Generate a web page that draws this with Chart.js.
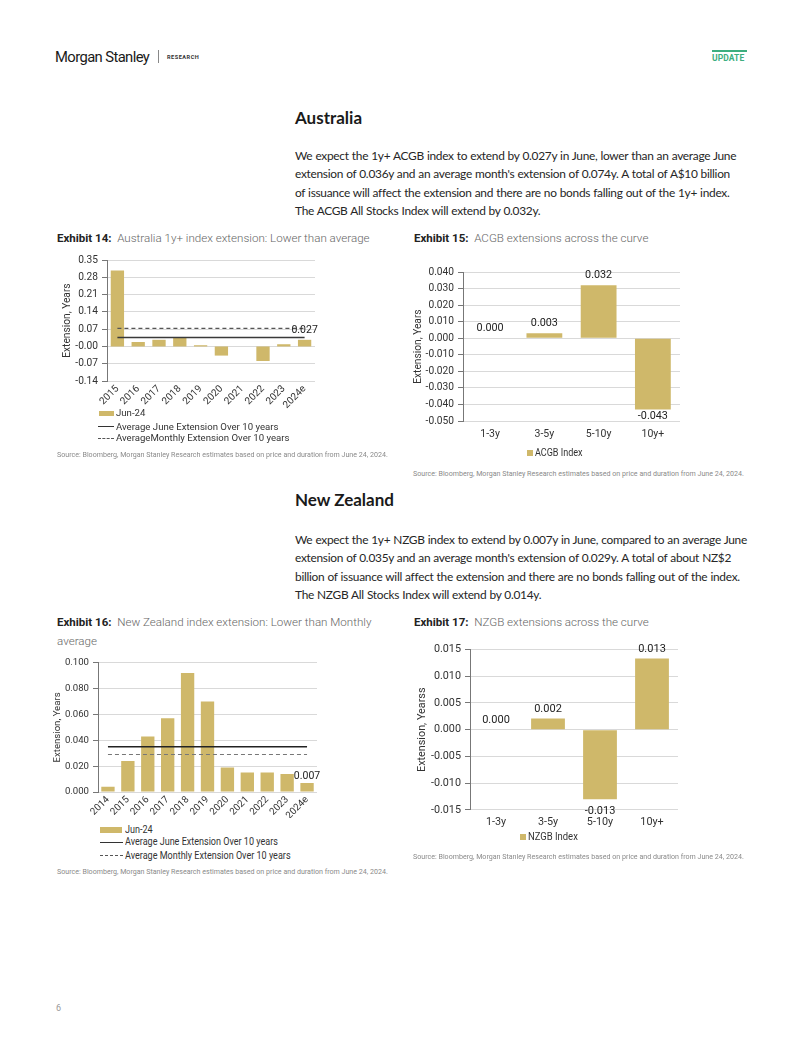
<!DOCTYPE html>
<html><head><meta charset="utf-8">
<script src="https://cdn.jsdelivr.net/npm/chart.js@4.4.1/dist/chart.umd.min.js"></script>
<style>
html,body{margin:0;padding:0;background:#fff;}
body{width:802px;height:1037px;position:relative;overflow:hidden;font-family:Roboto,"Liberation Sans",sans-serif;color:#222;}
.a{position:absolute;white-space:nowrap;}
canvas{position:absolute;}
.h2{font-family:Lato,"Open Sans",sans-serif;font-weight:700;font-size:17px;line-height:20px;color:#1a1a1a;}
.p{font-family:Lato,"Open Sans",sans-serif;font-size:11.9px;letter-spacing:-0.28px;word-spacing:0.3px;line-height:18.3px;color:#262626;}
.ex{font-size:11.6px;line-height:18px;color:#666;font-weight:300;}
.ex b{color:#222;font-weight:700;font-size:11.5px;}
.src{font-size:7.1px;color:#8a8a8a;line-height:10px;}
.lg{font-size:9.6px;color:#333;line-height:12px;}
.cn{font-size:10.5px;transform:scaleX(0.86);transform-origin:0 50%;}
.sw{position:absolute;background:#cfb86a;}
.ln{position:absolute;border-top:1.5px solid #333;height:0;}
.dl{position:absolute;border-top:1.2px dashed #555;height:0;}
</style></head>
<body>
<div class="a" style="left:55px;top:48px;font-size:14.8px;letter-spacing:-0.6px;color:#1a1a1a;">Morgan Stanley</div>
<div class="a" style="left:158px;top:50px;width:1px;height:13px;background:#888;"></div>
<div class="a" style="left:167px;top:54px;font-size:5.6px;font-weight:700;letter-spacing:0.5px;color:#333;">RESEARCH</div>
<div class="a" style="left:712px;top:50px;width:35px;height:2px;background:#3dae7f;"></div>
<div class="a" style="left:712px;top:53px;font-size:8.5px;font-weight:700;color:#3dae7f;letter-spacing:0.1px;">UPDATE</div>

<div class="a h2" style="left:295px;top:108px;">Australia</div>
<div class="a p" style="left:295px;top:147px;">We expect the 1y+ ACGB index to extend by 0.027y in June, lower than an average June<br>extension of 0.036y and an average month's extension of 0.074y. A total of A$10 billion<br>of issuance will affect the extension and there are no bonds falling out of the 1y+ index.<br>The ACGB All Stocks Index will extend by 0.032y.</div>

<div class="a ex" style="left:57px;top:229px;"><b>Exhibit 14:</b>&nbsp; Australia 1y+ index extension: Lower than average</div>
<div class="a ex" style="left:414px;top:229px;"><b>Exhibit 15:</b>&nbsp; ACGB extensions across the curve</div>

<canvas id="c14" width="262" height="160" style="left:57px;top:250px;"></canvas>
<canvas id="c15" width="276" height="183" style="left:408px;top:262px;"></canvas>

<div class="sw" style="left:99px;top:411px;width:15px;height:5px;"></div>
<div class="a lg" style="left:116px;top:407px;">Jun-24</div>
<div class="ln" style="left:98px;top:426px;width:16px;"></div>
<div class="a lg" style="left:116px;top:421px;">Average June Extension Over 10 years</div>
<div class="dl" style="left:98px;top:437.5px;width:16px;"></div>
<div class="a lg" style="left:116px;top:432px;">AverageMonthly Extension Over 10 years</div>
<div class="a src" style="left:57px;top:450px;">Source: Bloomberg, Morgan Stanley Research estimates based on price and duration from June 24, 2024.</div>

<div class="sw" style="left:527px;top:450px;width:6px;height:6px;"></div>
<div class="a lg cn" style="left:535px;top:447px;">ACGB Index</div>
<div class="a src" style="left:413px;top:469px;">Source: Bloomberg, Morgan Stanley Research estimates based on price and duration from June 24, 2024.</div>

<div class="a h2" style="left:295px;top:490px;">New Zealand</div>
<div class="a p" style="left:295px;top:531px;">We expect the 1y+ NZGB index to extend by 0.007y in June, compared to an average June<br>extension of 0.035y and an average month's extension of 0.029y. A total of about NZ$2<br>billion of issuance will affect the extension and there are no bonds falling out of the index.<br>The NZGB All Stocks Index will extend by 0.014y.</div>

<div class="a ex" style="left:57px;top:613px;line-height:18.5px;"><b>Exhibit 16:</b>&nbsp; New Zealand index extension: Lower than Monthly<br>average</div>
<div class="a ex" style="left:414px;top:613px;"><b>Exhibit 17:</b>&nbsp; NZGB extensions across the curve</div>

<canvas id="c16" width="272" height="165" style="left:48px;top:653px;"></canvas>
<canvas id="c17" width="270" height="193" style="left:412px;top:639px;"></canvas>

<div class="sw" style="left:100px;top:827px;width:22px;height:6px;"></div>
<div class="a lg cn" style="left:125px;top:824px;">Jun-24</div>
<div class="ln" style="left:100px;top:841.5px;width:23px;"></div>
<div class="a lg cn" style="left:125px;top:836px;">Average June Extension Over 10 years</div>
<div class="dl" style="left:100px;top:855px;width:23px;"></div>
<div class="a lg cn" style="left:125px;top:849.5px;">Average Monthly Extension Over 10 years</div>
<div class="a src" style="left:57px;top:867px;">Source: Bloomberg, Morgan Stanley Research estimates based on price and duration from June 24, 2024.</div>

<div class="sw" style="left:520px;top:834px;width:6px;height:6px;"></div>
<div class="a lg cn" style="left:528px;top:831px;font-size:11px;">NZGB Index</div>
<div class="a src" style="left:413px;top:852px;">Source: Bloomberg, Morgan Stanley Research estimates based on price and duration from June 24, 2024.</div>

<div class="a" style="left:56px;top:1003px;font-size:9px;color:#999;">6</div>

<script>
// ---------- DATA ----------
const auYears = ['2015','2016','2017','2018','2019','2020','2021','2022','2023','2024e'];
const auJun24 = [0.308, 0.018, 0.027, 0.036, 0.005, -0.037, 0.000, -0.059, 0.009, 0.027];
const auAvgJune = [0.036,0.036,0.036,0.036,0.036,0.036,0.036,0.036,0.036,0.036];
const auAvgMonthly = [0.073,0.073,0.073,0.073,0.073,0.073,0.073,0.073,0.073,0.073];

const acgbBuckets = ['1-3y','3-5y','5-10y','10y+'];
const acgbIndex = [0.000, 0.003, 0.032, -0.043];

const nzYears = ['2014','2015','2016','2017','2018','2019','2020','2021','2022','2023','2024e'];
const nzJun24 = [0.004, 0.024, 0.043, 0.057, 0.092, 0.070, 0.019, 0.015, 0.015, 0.014, 0.007];
const nzAvgJune = [0.035,0.035,0.035,0.035,0.035,0.035,0.035,0.035,0.035,0.035,0.035];
const nzAvgMonthly = [0.029,0.029,0.029,0.029,0.029,0.029,0.029,0.029,0.029,0.029,0.029];

const nzgbBuckets = ['1-3y','3-5y','5-10y','10y+'];
const nzgbIndex = [0.000, 0.0021, -0.013, 0.0133];

// ---------- STYLE ----------
const GOLD = '#cfb86a';
const FONT = 'Roboto, "Liberation Sans", sans-serif';
Chart.defaults.font.family = FONT;
Chart.defaults.color = '#333';
Chart.defaults.animation = false;

const valueLabels = {
  id: 'valueLabels',
  afterDatasetsDraw(chart, args, o) {
    if (!o || !o.show) return;
    const meta = chart.getDatasetMeta(0);
    const ds = chart.data.datasets[0];
    const ctx = chart.ctx;
    ctx.save();
    ctx.font = (o.size || 10.5) + 'px ' + FONT;
    ctx.fillStyle = '#222';
    ctx.textAlign = 'center';
    ctx.textBaseline = 'alphabetic';
    meta.data.forEach((el, i) => {
      if (o.only && !o.only.includes(i)) return;
      const v = ds.data[i];
      const txt = v.toFixed(3);
      if (v >= 0) ctx.fillText(txt, el.x, el.y - o.gap);
      else ctx.fillText(txt, el.x, el.y + o.gapNeg);
    });
    ctx.restore();
  }
};

function yAxis(min, max, step, dec, width, title, fs) {
  return {
    min: min, max: max,
    afterFit: s => { s.width = width; },
    ticks: { stepSize: step, padding: 4, font: { size: fs || 10 }, color: '#333',
      callback: v => Number(v).toFixed(dec) },
    grid: { color: '#d9d9d9', lineWidth: 1, tickLength: 5, tickColor: '#777' },
    border: { display: true, color: '#777', width: 1 },
    title: { display: true, text: title, font: { size: fs || 10 }, color: '#333', padding: { top: 4, bottom: 0 } }
  };
}
function xAxis(height, rot, pad, fs) {
  return {
    afterFit: s => { s.height = height; },
    grid: { display: false, drawTicks: false },
    border: { display: false },
    ticks: { autoSkip: false, minRotation: rot, maxRotation: rot, padding: pad, font: { size: fs || 10 }, color: '#333' }
  };
}
function baseOpts(pad) {
  return {
    responsive: false, animation: false, devicePixelRatio: 1,
    layout: { padding: pad },
    plugins: { legend: { display: false }, tooltip: { enabled: false } }
  };
}

// Exhibit 14
(function () {
  const o = baseOpts({ top: 8, right: 4, left: 0, bottom: 0 });
  o.scales = { x: xAxis(29, 45, 2, 10), y: yAxis(-0.14, 0.35, 0.07, 2, 50, 'Extension, Years', 10.2) };
  o.plugins.valueLabels = { show: true, only: [9], gap: 6.5, gapNeg: 9, size: 10.5 };
  new Chart(document.getElementById('c14'), {
    type: 'bar',
    data: { labels: auYears, datasets: [
      { type: 'bar', label: 'Jun-24', data: auJun24, backgroundColor: GOLD, categoryPercentage: 1, barPercentage: 0.64, order: 2 },
      { type: 'line', label: 'Average June Extension Over 10 years', data: auAvgJune, borderColor: '#3a3a3a', borderWidth: 1.5, pointRadius: 0, order: 1 },
      { type: 'line', label: 'AverageMonthly Extension Over 10 years', data: auAvgMonthly, borderColor: '#555', borderWidth: 1.2, borderDash: [4, 3], pointRadius: 0, order: 0 }
    ] },
    options: o, plugins: [valueLabels]
  });
})();

// Exhibit 15
(function () {
  const o = baseOpts({ top: 8, right: 4, left: 0, bottom: 0 });
  o.scales = { x: xAxis(24, 0, 7, 10.5), y: yAxis(-0.05, 0.04, 0.01, 3, 55, 'Extension, Years', 10.2) };
  o.plugins.valueLabels = { show: true, gap: 7.5, gapNeg: 9.5, size: 10.8 };
  new Chart(document.getElementById('c15'), {
    type: 'bar',
    data: { labels: acgbBuckets, datasets: [
      { label: 'ACGB Index', data: acgbIndex, backgroundColor: GOLD, categoryPercentage: 1, barPercentage: 0.66 }
    ] },
    options: o, plugins: [valueLabels]
  });
})();

// Exhibit 16
(function () {
  const o = baseOpts({ top: 8, right: 3, left: 0, bottom: 0 });
  o.scales = { x: xAxis(26, 45, 2, 9.8), y: yAxis(0, 0.1, 0.02, 3, 50, 'Extension, Years', 9.6) };
  o.plugins.valueLabels = { show: true, only: [10], gap: 4, gapNeg: 9, size: 10.5 };
  new Chart(document.getElementById('c16'), {
    type: 'bar',
    data: { labels: nzYears, datasets: [
      { type: 'bar', label: 'Jun-24', data: nzJun24, backgroundColor: GOLD, categoryPercentage: 1, barPercentage: 0.67, order: 2 },
      { type: 'line', label: 'Average June Extension Over 10 years', data: nzAvgJune, borderColor: '#222', borderWidth: 1.5, pointRadius: 0, order: 1 },
      { type: 'line', label: 'Average Monthly Extension Over 10 years', data: nzAvgMonthly, borderColor: '#777', borderWidth: 1.2, borderDash: [4, 3], pointRadius: 0, order: 0 }
    ] },
    options: o, plugins: [valueLabels]
  });
})();

// Exhibit 17
(function () {
  const o = baseOpts({ top: 8, right: 4, left: 0, bottom: 0 });
  o.scales = { x: xAxis(22, 0, 6, 10.8), y: yAxis(-0.015, 0.015, 0.005, 3, 58, 'Extension, Yearss', 10.8) };
  o.plugins.valueLabels = { show: true, gap: 7, gapNeg: 14.5, size: 11 };
  new Chart(document.getElementById('c17'), {
    type: 'bar',
    data: { labels: nzgbBuckets, datasets: [
      { label: 'NZGB Index', data: nzgbIndex, backgroundColor: GOLD, categoryPercentage: 1, barPercentage: 0.65 }
    ] },
    options: o, plugins: [valueLabels]
  });
})();
</script>
</body></html>
